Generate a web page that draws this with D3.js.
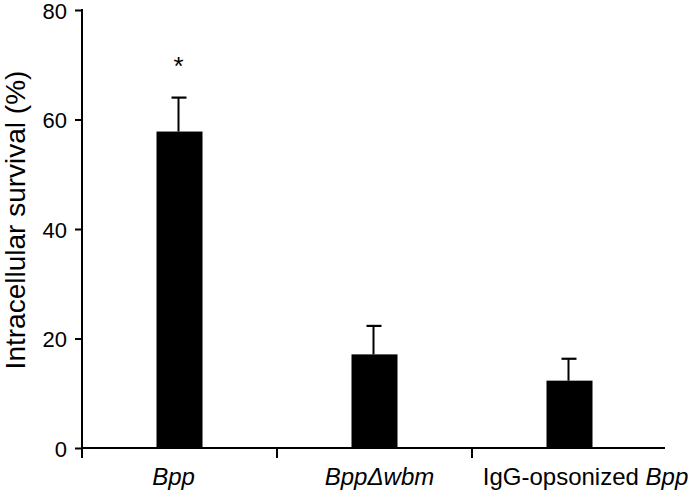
<!DOCTYPE html>
<html>
<head>
<meta charset="utf-8">
<script src="https://cdn.jsdelivr.net/npm/d3@7"></script>
<style>
  html, body { margin: 0; padding: 0; background: #fff; }
  svg { display: block; font-family: "Liberation Sans", Arial, Helvetica, sans-serif; }
</style>
</head>
<body>
<svg id="chart" width="700" height="495"></svg>
<script>
const categories = ["Bpp", "BppΔwbm", "IgG-opsonized Bpp"];
const labelPlain = ["", "", "IgG-opsonized "];
const labelItalic = ["Bpp", "BppΔwbm", "Bpp"];
const values = [57.8, 17.1, 12.3];
const errors = [6.2, 5.2, 4.0];
const significance = ["*", "", ""];
const yTicks = [0, 20, 40, 60, 80];
const yLabel = "Intracellular survival (%)";

(function () {
const svg = d3.select("#chart");
const mLeft = 82, mRight = 667, mTop = 10, mBottom = 448;
const labelDx = [-6, 5, 16];

const x = d3.scaleBand().domain(categories).range([mLeft, mRight]).padding(0);
const y = d3.scaleLinear().domain([0, 80]).range([mBottom, mTop]);
const barW = 46;

// bars
svg.selectAll("rect.bar").data(categories).enter().append("rect")
  .attr("class", "bar")
  .attr("x", d => x(d) + x.bandwidth() / 2 - barW / 2)
  .attr("width", barW)
  .attr("y", (d, i) => y(values[i]))
  .attr("height", (d, i) => y(0) - y(values[i]))
  .attr("fill", "#000");

// error bars
const eb = svg.selectAll("g.err").data(categories).enter().append("g").attr("class", "err");
eb.append("line")
  .attr("x1", d => x(d) + x.bandwidth() / 2 - 1)
  .attr("x2", d => x(d) + x.bandwidth() / 2 - 1)
  .attr("y1", (d, i) => y(values[i]))
  .attr("y2", (d, i) => y(values[i] + errors[i]))
  .attr("stroke", "#000").attr("stroke-width", 2);
eb.append("line")
  .attr("x1", d => x(d) + x.bandwidth() / 2 - 8)
  .attr("x2", d => x(d) + x.bandwidth() / 2 + 7)
  .attr("y1", (d, i) => y(values[i] + errors[i]))
  .attr("y2", (d, i) => y(values[i] + errors[i]))
  .attr("stroke", "#000").attr("stroke-width", 2.2);

// significance stars
svg.selectAll("text.sig").data(categories).enter().append("text")
  .attr("class", "sig")
  .attr("x", d => x(d) + x.bandwidth() / 2 - 1)
  .attr("y", (d, i) => y(values[i] + errors[i]) - 23)
  .attr("text-anchor", "middle")
  .attr("font-size", 26)
  .text((d, i) => significance[i]);

// y axis
const yAxis = d3.axisLeft(y).tickValues(yTicks).tickSize(7).tickPadding(8).tickSizeOuter(0);
const gy = svg.append("g").attr("transform", `translate(${mLeft},0)`).call(yAxis);
gy.select(".domain").remove();
gy.selectAll(".tick line").attr("stroke", "#000").attr("stroke-width", 2);
gy.selectAll(".tick text").attr("font-size", 22).attr("dy", "0.37em").attr("fill", "#000")
  .attr("font-family", "Liberation Sans, Arial, sans-serif");
svg.append("line").attr("x1", mLeft).attr("x2", mLeft)
  .attr("y1", mTop - 1).attr("y2", mBottom + 10)
  .attr("stroke", "#000").attr("stroke-width", 2);

// x axis
svg.append("line").attr("x1", mLeft).attr("x2", mRight - 2)
  .attr("y1", mBottom).attr("y2", mBottom)
  .attr("stroke", "#000").attr("stroke-width", 2);
svg.selectAll("line.xtick").data(categories.slice(1)).enter().append("line")
  .attr("class", "xtick")
  .attr("x1", d => x(d)).attr("x2", d => x(d))
  .attr("y1", mBottom).attr("y2", mBottom + 10)
  .attr("stroke", "#000").attr("stroke-width", 2);

// x labels
const xl = svg.selectAll("text.xlab").data(categories).enter().append("text")
  .attr("class", "xlab")
  .attr("x", (d, i) => x(d) + x.bandwidth() / 2 + labelDx[i])
  .attr("y", 485)
  .attr("text-anchor", "middle")
  .attr("font-size", 24)
  .attr("fill", "#000");
xl.append("tspan").text((d, i) => labelPlain[i]);
xl.append("tspan").attr("font-style", "italic").text((d, i) => labelItalic[i]);

// y label
svg.append("text")
  .attr("transform", `translate(25, 220) rotate(-90)`)
  .attr("text-anchor", "middle")
  .attr("font-size", 28)
  .attr("fill", "#000")
  .text(yLabel);
})();
</script>
</body>
</html>
